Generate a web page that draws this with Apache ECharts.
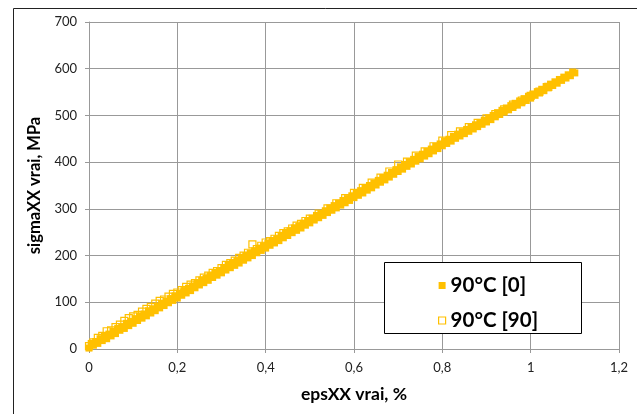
<!DOCTYPE html>
<html>
<head>
<meta charset="utf-8">
<script src="https://cdn.jsdelivr.net/npm/echarts@6/dist/echarts.min.js"></script>
<style>
html,body{margin:0;padding:0;background:#fff;}
#chart{width:637px;height:414px;}
</style>
</head>
<body>
<div id="chart"></div>
<script>
const seriesNames = ['90°C [0]', '90°C [90]'];
const xTicks = [0, 0.2, 0.4, 0.6, 0.8, 1, 1.2];
const yTicks = [0, 100, 200, 300, 400, 500, 600, 700];

// series 90°C [0] — lower row of the band
const eps0 = [0,0.01,0.02,0.03,0.04,0.05,0.06,0.07,0.08,0.09,0.10,0.11,0.12,0.13,0.14,0.15,0.16,0.17,0.18,0.19,
0.20,0.21,0.22,0.23,0.24,0.25,0.26,0.27,0.28,0.29,0.30,0.31,0.32,0.33,0.34,0.35,0.36,0.37,0.38,0.39,
0.40,0.41,0.42,0.43,0.44,0.45,0.46,0.47,0.48,0.49,0.50,0.51,0.52,0.53,0.54,0.55,0.56,0.57,0.58,0.59,
0.60,0.61,0.62,0.63,0.64,0.65,0.66,0.67,0.68,0.69,0.70,0.71,0.72,0.73,0.74,0.75,0.76,0.77,0.78,0.79,
0.80,0.81,0.82,0.83,0.84,0.85,0.86,0.87,0.88,0.89,0.90,0.91,0.92,0.93,0.94,0.95,0.96,0.97,0.98,0.99,
1.00,1.01,1.02,1.03,1.04,1.05,1.06,1.07,1.08,1.09,1.10];
const sig0 = [2,8,12,18,22,28,33,40,44,50,55,61,66,71,77,82,88,93,99,104,
109,115,120,125,131,137,142,147,153,158,163,169,174,179,184,190,195,200,206,211,
216,222,227,232,238,243,249,254,259,265,270,276,281,286,292,297,302,308,313,318,
324,329,334,340,345,351,357,362,368,374,380,385,391,396,402,407,413,418,424,429,
435,440,445,451,456,461,466,471,476,481,486,491,497,502,507,512,517,522,527,532,
537,543,548,553,559,564,569,575,580,585,591];

// series 90°C [0] — interleaved points (upper side of the band)
const eps0b = [0.005,0.015,0.025,0.035,0.045,0.055,0.065,0.075,0.085,0.095,0.105,0.115,0.125,0.135,0.145,0.155,0.165,0.175,0.185,0.195,
0.205,0.215,0.225,0.235,0.245,0.255,0.265,0.275,0.285,0.295,0.305,0.315,0.325,0.335,0.345,0.355,0.365,0.375,0.385,0.395,
0.405,0.415,0.425,0.435,0.445,0.455,0.465,0.475,0.485,0.495,0.505,0.515,0.525,0.535,0.545,0.555,0.565,0.575,0.585,0.595,
0.605,0.615,0.625,0.635,0.645,0.655,0.665,0.675,0.685,0.695,0.705,0.715,0.725,0.735,0.745,0.755,0.765,0.775,0.785,0.795,
0.805,0.815,0.825,0.835,0.845,0.855,0.865,0.875,0.885,0.895,0.905,0.915,0.925,0.935,0.945,0.955,0.965,0.975,0.985,0.995,
1.005,1.015,1.025,1.035,1.045,1.055,1.065,1.075,1.085,1.095];
const sig0b = [12,16,22,28,32,38,44,48,55,59,65,71,75,82,86,92,98,103,108,114,
119,125,130,135,141,147,151,157,163,167,173,179,183,189,194,200,205,210,216,221,
226,232,236,242,248,253,259,263,269,275,280,286,290,296,302,307,312,318,322,328,
334,339,344,350,355,361,367,372,378,384,390,395,401,406,412,417,423,428,434,439,
445,449,455,460,465,470,475,480,485,490,495,500,506,511,516,521,526,531,536,541,
546,551,556,562,567,572,577,582,587,593];

// series 90°C [90]
const eps90 = [0,0.01,0.02,0.03,0.04,0.05,0.06,0.07,0.08,0.09,0.10,0.11,0.12,0.13,0.14,0.15,0.16,0.17,0.18,0.19,
0.20,0.21,0.22,0.23,0.24,0.25,0.26,0.27,0.28,0.29,0.30,0.31,0.32,0.33,0.34,0.35,0.36,0.37,0.38,0.39,
0.40,0.41,0.42,0.43,0.44,0.45,0.46,0.47,0.48,0.49,0.50,0.52,0.54,0.56,0.58,0.60,0.62,0.64,0.66,0.68,
0.70,0.72,0.74,0.76,0.78,0.80,0.82,0.84,0.86,0.88,0.90,0.92,0.94,0.96,0.98,1.00,1.02,1.04];
const sig90 = [6,14,24,28,38,40,47,52,60,66,70,73,80,86,90,97,103,106,112,118,
121,126,133,138,141,147,153,157,163,167,173,180,184,189,195,200,206,224,214,221,
228,231,236,242,248,252,258,264,268,274,279,290,301,312,323,334,345,356,367,380,
395,401,414,423,434,446,458,466,475,484,494,503,513,523,532,542,551,561];

const gold = '#FFC000';
const font = 'Lato, "Open Sans", sans-serif';

const data0 = eps0.map((x, i) => [x, sig0[i]]).concat(eps0b.map((x, i) => [x, sig0b[i]]));
const data90 = eps90.map((x, i) => [x, sig90[i]]);

const chart = echarts.init(document.getElementById('chart'), null, {renderer: 'canvas'});
chart.setOption({
  animation: false,
  backgroundColor: '#fff',
  grid: {left: 89, right: 18, top: 22, bottom: 65, containLabel: false},
  xAxis: {
    type: 'value', min: xTicks[0], max: xTicks[xTicks.length-1], interval: 0.2,
    name: 'epsXX vrai, %', nameLocation: 'middle', nameGap: 36,
    nameTextStyle: {fontFamily: font, fontWeight: 'bold', fontSize: 17.5, color: '#000'},
    axisLine: {show: true, lineStyle: {color: '#999', width: 1}},
    axisTick: {show: true, length: 4, lineStyle: {color: '#999'}},
    axisLabel: {margin: 12, fontFamily: font, fontSize: 13, color: '#222',
      formatter: v => String(+v.toFixed(1)).replace('.', ',')},
    splitLine: {show: true, lineStyle: {color: '#999', width: 1}}
  },
  yAxis: {
    type: 'value', min: yTicks[0], max: yTicks[yTicks.length-1], interval: 100,
    name: 'sigmaXX vrai, MPa', nameLocation: 'middle', nameGap: 45,
    nameTextStyle: {fontFamily: font, fontWeight: 'bold', fontSize: 16.5, color: '#000'},
    axisLine: {show: true, lineStyle: {color: '#999', width: 1}},
    axisTick: {show: true, length: 4, lineStyle: {color: '#999'}},
    axisLabel: {margin: 12, fontFamily: font, fontSize: 13, color: '#222'},
    splitLine: {show: true, lineStyle: {color: '#999', width: 1}}
  },
  legend: {
    left: 433, top: 270, orient: 'vertical', itemWidth: 7, itemHeight: 7, itemGap: 14,
    textStyle: {fontFamily: font, fontWeight: 'bold', fontSize: 20.5, color: '#000', lineHeight: 20, padding: [0,0,0,0]},
    data: [
      {name: seriesNames[0], icon: 'rect', itemStyle: {color: gold}},
      {name: seriesNames[1], icon: 'rect', itemStyle: {color: '#fff', borderColor: gold, borderWidth: 1.2}}
    ],
    z: 10
  },
  graphic: [
    {type: 'rect', shape: {x: 13.5, y: 8.5, width: 700, height: 500}, style: {fill: 'none', stroke: '#222', lineWidth: 1}, z: 0, silent: true},
    {type: 'rect', shape: {x: 384.5, y: 262.5, width: 197, height: 71}, style: {fill: '#fff', stroke: '#000', lineWidth: 1}, z: 5, silent: true}
  ],
  series: [
    {
      name: seriesNames[0], type: 'scatter', symbol: 'rect', symbolSize: 7,
      data: data0,
      itemStyle: {color: gold, opacity: 1}
    },
    {
      name: seriesNames[1], type: 'scatter', symbol: 'rect', symbolSize: 7,
      data: data90,
      itemStyle: {color: 'rgba(0,0,0,0)', borderColor: gold, borderWidth: 1.2, opacity: 1}
    }
  ]
});
</script>
</body>
</html>
